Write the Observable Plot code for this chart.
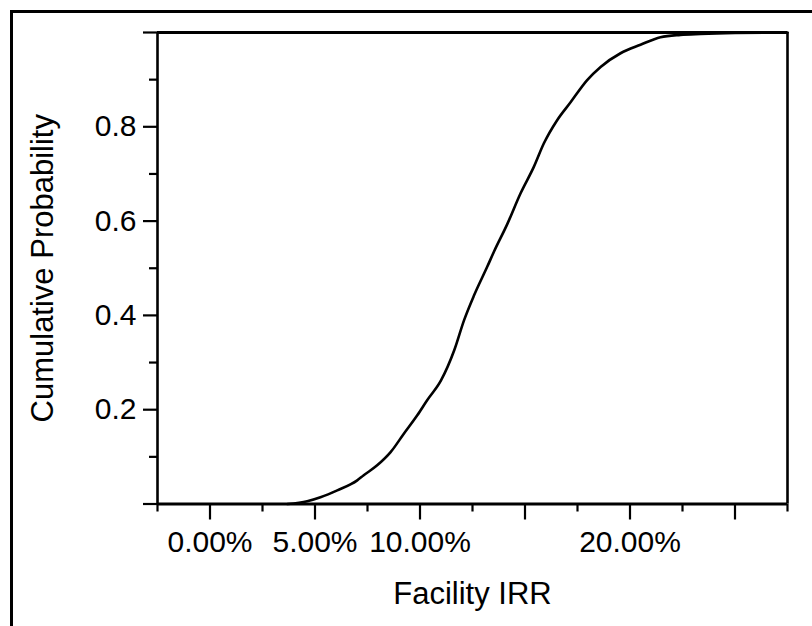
<!DOCTYPE html>
<html>
<head>
<meta charset="utf-8">
<script src="https://cdn.jsdelivr.net/npm/d3@7"></script>
<script src="https://cdn.jsdelivr.net/npm/@observablehq/plot@0.6"></script>
<style>
  html, body { margin: 0; padding: 0; background: #fff; }
  #wrap { position: relative; width: 812px; height: 626px; overflow: hidden; }
  #border { position: absolute; left: 10px; top: 10px; width: 1000px; height: 1000px;
            border-left: 3px solid #000; border-top: 3px solid #000; pointer-events: none; }
</style>
</head>
<body>
<div id="wrap"><div id="border"></div></div>
<script>
// Facility IRR (%) and cumulative probability
const irr  = [3.7, 4.63, 5.26, 6.06, 7.01, 7.32, 7.96, 8.6, 9.23, 9.87, 10.34, 11.0, 11.63, 12.1, 12.57, 13.2, 13.52, 14.15, 14.79, 15.42, 15.9, 16.53, 17.17, 17.96, 18.6, 19.55, 20.5, 21.45, 22.4, 23.36, 25.0, 27.5];
const prob = [0, 0.006, 0.0145, 0.029, 0.05, 0.061, 0.082, 0.11, 0.149, 0.188, 0.22, 0.262, 0.326, 0.39, 0.442, 0.503, 0.535, 0.593, 0.659, 0.715, 0.765, 0.814, 0.852, 0.899, 0.927, 0.956, 0.974, 0.99, 0.995, 0.997, 0.999, 1.0];

const xMajorTicks = [0, 5, 10, 15, 20, 25];
const xMinorTicks = [-2.5, 2.5, 7.5, 12.5, 17.5, 22.5, 27.5];
const xTickLabelValues = [0, 5, 10, 20];
const xTickLabels = ["0.00%", "5.00%", "10.00%", "20.00%"];
const yMajorTicks = [0, 0.2, 0.4, 0.6, 0.8, 1.0];
const yMinorTicks = [0.1, 0.3, 0.5, 0.7, 0.9];
const yTickLabelValues = [0.2, 0.4, 0.6, 0.8];
const yTickLabels = ["0.2", "0.4", "0.6", "0.8"];
const xTitle = "Facility IRR";
const yTitle = "Cumulative Probability";

const data = irr.map((v, i) => ({irr: v, p: prob[i]}));
const xLab = xTickLabelValues.map((v, i) => ({v, t: xTickLabels[i]}));
const yLab = yTickLabelValues.map((v, i) => ({v, t: yTickLabels[i]}));

const chart = Plot.plot({
  width: 812,
  height: 626,
  marginLeft: 157,
  marginRight: 25,
  marginTop: 32,
  marginBottom: 122.5,
  style: {fontFamily: "'Liberation Sans', Arial, sans-serif", fontSize: "30px", color: "#000", background: "transparent", overflow: "visible"},
  x: {domain: [-2.5, 27.5]},
  y: {domain: [0, 1]},
  marks: [
    Plot.line(data, {x: "irr", y: "p", stroke: "#000", strokeWidth: 2.6, curve: "monotone-x"}),
    // frame lines
    Plot.ruleY([0, 1], {stroke: "#000", strokeWidth: 2.8}),
    Plot.ruleX([-2.5, 27.5], {stroke: "#000", strokeWidth: 2.6}),
    // x ticks
    Plot.axisX({ticks: xMajorTicks, tickSize: 16, tickFormat: () => "", strokeWidth: 2.2, label: null}),
    Plot.axisX({ticks: xMinorTicks, tickSize: 8, tickFormat: () => "", strokeWidth: 2.2, label: null}),
    // y ticks
    Plot.axisY({ticks: yMajorTicks, tickSize: 14, tickFormat: () => "", strokeWidth: 2.2, label: null}),
    Plot.axisY({ticks: yMinorTicks, tickSize: 8, tickFormat: () => "", strokeWidth: 2.2, label: null}),
    // tick labels
    Plot.text(xLab, {x: "v", text: "t", frameAnchor: "bottom", dy: 38, lineAnchor: "middle", fontSize: 30, fill: "#000"}),
    Plot.text(yLab, {y: "v", text: "t", frameAnchor: "left", dx: -21, textAnchor: "end", lineAnchor: "middle", fontSize: 30, fill: "#000"}),
    // axis titles
    Plot.text([xTitle], {frameAnchor: "bottom", dy: 90, textAnchor: "middle", lineAnchor: "middle", fontSize: 31, fill: "#000"}),
    Plot.text([yTitle], {frameAnchor: "left", dx: -114, rotate: -90, textAnchor: "middle", lineAnchor: "middle", fontSize: 31, fill: "#000"})
  ]
});
chart.style.position = "absolute";
chart.style.left = "0px";
chart.style.top = "0px";
document.getElementById("wrap").prepend(chart);
</script>
</body>
</html>
